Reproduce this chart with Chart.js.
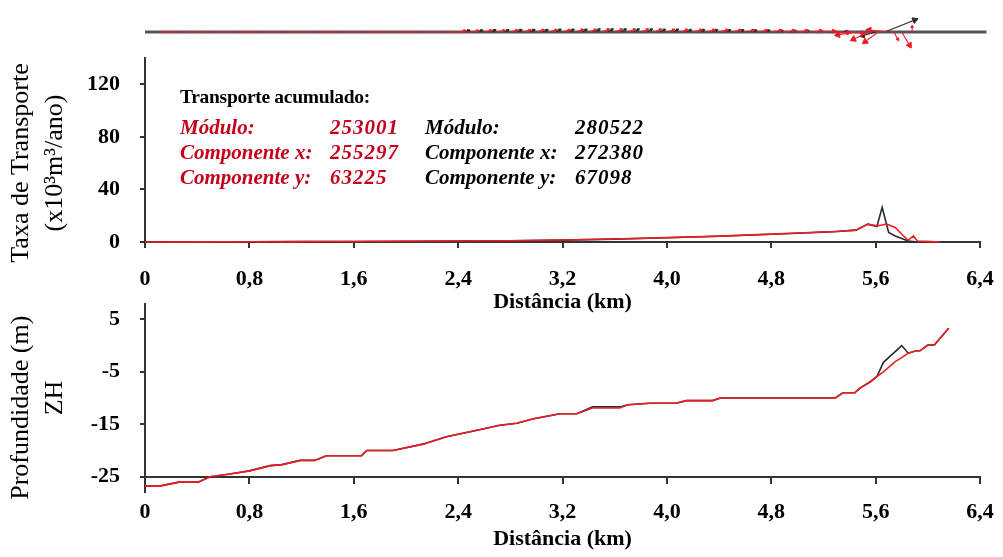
<!DOCTYPE html>
<html>
<head>
<meta charset="utf-8">
<script src="https://cdn.jsdelivr.net/npm/chart.js@4.4.1/dist/chart.umd.min.js"></script>
<style>
html, body { margin: 0; padding: 0; background: #fff; }
#wrap { position: relative; width: 1003px; height: 557px; overflow: hidden; }
.box { position: absolute; left: 0; width: 1003px; }
.note { position: absolute; font-family: 'Liberation Serif', serif; font-weight: bold; font-style: italic;
        font-size: 21px; line-height: 24px; white-space: nowrap; }
.num { letter-spacing: 1px; }
.red { color: #c4001a; }
</style>
</head>
<body>
<div id="wrap">
  <div class="box" style="top:0;height:60px"><canvas id="vec"></canvas></div>
  <div class="box" style="top:50px;height:268px"><canvas id="taxa"></canvas></div>
  <div class="box" style="top:292px;height:265px"><canvas id="prof"></canvas></div>

  <div class="note" style="left:180px;top:85px;font-style:normal;font-size:19.5px;letter-spacing:-0.3px">Transporte acumulado:</div>
  <div class="note red" style="left:180px;top:115px">Módulo:</div>
  <div class="note red num" style="left:330px;top:115px">253001</div>
  <div class="note red" style="left:180px;top:140px">Componente x:</div>
  <div class="note red num" style="left:330px;top:140px">255297</div>
  <div class="note red" style="left:180px;top:165px">Componente y:</div>
  <div class="note red num" style="left:330px;top:165px">63225</div>
  <div class="note" style="left:425px;top:115px">Módulo:</div>
  <div class="note num" style="left:575px;top:115px">280522</div>
  <div class="note" style="left:425px;top:140px">Componente x:</div>
  <div class="note num" style="left:575px;top:140px">272380</div>
  <div class="note" style="left:425px;top:165px">Componente y:</div>
  <div class="note num" style="left:575px;top:165px">67098</div>
</div>
<script>
// eixo das distancias (km)
const tickKm = [0, 0.8, 1.6, 2.4, 3.2, 4.0, 4.8, 5.6, 6.4];
const taxaTicks = [0, 40, 80, 120];
const profTicks = [-25, -15, -5, 5];

// taxa de transporte (x10^3 m3/ano)
const taxaKmRed = [0, 0.4, 0.8, 1.2, 1.6, 2.0, 2.4, 2.8, 3.2, 3.6, 4.0, 4.4, 4.8, 5.0, 5.2, 5.3, 5.45, 5.54, 5.61, 5.65, 5.68, 5.7, 5.75, 5.8, 5.85, 5.89, 5.92, 5.99, 6.09];
const taxaRed   = [0, 0.1, 0.2, 0.3, 0.4, 0.6, 0.8, 1.0, 1.5, 2.3, 3.3, 4.5, 6.0, 6.8, 7.6, 8.0, 9.0, 13.6, 12.3, 13.0, 13.6, 13.2, 11.0, 5.9, 1.3, 4.6, 0.8, 0.5, 0];
const taxaKmBlack = [0, 0.4, 0.8, 1.2, 1.6, 2.0, 2.4, 2.8, 3.2, 3.6, 4.0, 4.4, 4.8, 5.0, 5.2, 5.3, 5.45, 5.54, 5.61, 5.65, 5.7, 5.75, 5.85, 5.92];
const taxaBlack   = [0, 0.1, 0.2, 0.3, 0.4, 0.5, 0.7, 1.0, 1.4, 2.2, 3.2, 4.4, 5.9, 6.7, 7.5, 8.0, 9.0, 13.6, 11.8, 26.4, 7.2, 4.6, 0.8, 0];

// perfil de profundidade (m, ZH)
const profKmRed = [0, 0.11, 0.27, 0.41, 0.5, 0.65, 0.8, 0.96, 1.05, 1.19, 1.3, 1.39, 1.66, 1.7, 1.9, 2.13, 2.31, 2.5, 2.72, 2.85, 2.97, 3.18, 3.31, 3.43, 3.64, 3.7, 3.87, 4.07, 4.15, 4.35, 4.41, 5.29, 5.35, 5.44, 5.48, 5.56, 5.61, 5.66, 5.75, 5.8, 5.85, 5.91, 5.94, 6.0, 6.05, 6.16];
const profRed   = [-26.8, -26.8, -26.0, -26.0, -25.0, -24.5, -23.9, -22.9, -22.7, -21.9, -21.9, -21.0, -21.0, -20.0, -20.0, -18.8, -17.4, -16.4, -15.2, -14.8, -14.0, -13.0, -13.0, -11.9, -11.9, -11.3, -11.0, -11.0, -10.5, -10.5, -10.0, -10.0, -9.0, -9.0, -8.1, -6.9, -5.9, -5.0, -3.05, -2.3, -1.45, -1.0, -1.0, 0.1, 0.1, 3.3];
const profKmBlack = [0, 0.11, 0.27, 0.41, 0.5, 0.65, 0.8, 0.96, 1.05, 1.19, 1.3, 1.39, 1.66, 1.7, 1.9, 2.13, 2.31, 2.5, 2.72, 2.85, 2.97, 3.18, 3.31, 3.43, 3.64, 3.7, 3.87, 4.07, 4.15, 4.35, 4.41, 5.29, 5.35, 5.44, 5.48, 5.56, 5.61, 5.66, 5.8, 5.85, 5.91, 5.94, 6.0, 6.05, 6.16];
const profBlack   = [-26.8, -26.8, -26.0, -26.0, -25.0, -24.5, -23.9, -22.9, -22.7, -21.9, -21.9, -21.0, -21.0, -20.0, -20.0, -18.8, -17.4, -16.4, -15.2, -14.8, -14.0, -13.0, -13.0, -11.7, -11.7, -11.3, -11.0, -11.0, -10.5, -10.5, -10.0, -10.0, -9.0, -9.0, -8.1, -6.9, -5.9, -3.2, 0.0, -1.45, -1.0, -1.0, 0.1, 0.1, 3.3];

// vectores de transporte: posicao (km) e componentes (u, v)
const vecPosRed = [0.1, 0.3, 0.5, 0.7, 0.9, 1.1, 1.3, 1.5, 1.7, 1.9, 2.1, 2.3,
  2.4, 2.5, 2.6, 2.7, 2.8, 2.9, 3.0, 3.1, 3.2, 3.3, 3.4, 3.5, 3.6, 3.7, 3.8, 3.9, 4.0, 4.1, 4.2, 4.3, 4.4, 4.5, 4.6, 4.7, 4.8, 4.9, 5.0, 5.1, 5.2, 5.3, 5.4,
  5.45, 5.55, 5.62, 5.7, 5.74, 5.8, 5.88];
const vecURed = [0.18, 0.18, 0.18, 0.18, 0.18, 0.18, 0.18, 0.18, 0.18, 0.18, 0.18, 0.18,
  0.05, 0.05, 0.05, 0.05, 0.05, 0.05, 0.05, 0.05, 0.05, 0.05, 0.05, 0.05, 0.05, 0.05, 0.05, 0.05, 0.05, 0.05, 0.06, 0.06, 0.06, 0.06, 0.06, 0.06, 0.07, 0.07, 0.07, 0.08, 0.08, 0.09, 0.1,
  -0.14, -0.12, -0.1, -0.15, 0.03, 0.06, 0.0];
const vecVRed = [0, 0, 0, 0, 0, 0, 0, 0, 0, 0, 0, 0,
  0.05, 0.05, 0.06, 0.06, 0.07, 0.07, 0.08, 0.08, 0.08, 0.09, 0.09, 0.1, 0.1, 0.1, 0.1, 0.1, 0.09, 0.09, 0.08, 0.08, 0.08, 0.07, 0.07, 0.06, 0.06, 0.05, 0.05, 0.04, 0.03, -0.03, -0.05,
  -0.12, -0.3, -0.4, 0.08, -0.3, -0.55, 0.22];
const vecPosBlack = [2.45, 2.55, 2.65, 2.75, 2.85, 2.95, 3.05, 3.15, 3.25, 3.35, 3.45, 3.55, 3.65, 3.75, 3.85, 3.95, 4.05, 4.15, 4.25, 4.35, 4.45, 4.55, 4.65, 4.75, 4.85, 4.95, 5.05, 5.15, 5.25, 5.35, 5.6, 5.67];
const vecUBlack = [0.03, 0.03, 0.03, 0.03, 0.03, 0.03, 0.03, 0.03, 0.03, 0.03, 0.03, 0.03, 0.03, 0.03, 0.03, 0.03, 0.03, 0.03, 0.03, 0.03, 0.03, 0.03, 0.03, 0.03, 0.03, 0.03, 0.03, 0.03, 0.03, 0.03, -0.1, 0.23];
const vecVBlack = [0.06, 0.06, 0.07, 0.07, 0.08, 0.08, 0.08, 0.09, 0.09, 0.09, 0.1, 0.1, 0.1, 0.1, 0.1, 0.09, 0.09, 0.08, 0.08, 0.08, 0.07, 0.07, 0.06, 0.06, 0.05, 0.05, 0.05, 0.04, 0.04, 0.03, -0.15, 0.5];
const baseKm = [0, 6.45];

const RED = '#ee1c25';
const BLACK = '#2a2a2a';
const AXIS = '#333';

Chart.defaults.font.family = "'Liberation Serif', 'Times New Roman', serif";
Chart.defaults.color = '#000';
Chart.defaults.animation = false;
Chart.defaults.events = [];
Chart.defaults.plugins.legend.display = false;
Chart.defaults.plugins.tooltip.enabled = false;

const fmtKm = v => v === 0 ? '0' : v.toFixed(1).replace('.', ',');
const pairs = (xs, ys) => xs.map((x, i) => ({x: x, y: ys[i]}));
const noPad = s => { s.paddingTop = 0; s.paddingBottom = 0; s.paddingLeft = 0; s.paddingRight = 0; };

function xAxis(extra, h, tickPad) {
    return Object.assign({
        type: 'linear', min: 0, max: 6.4,
        afterBuildTicks: s => { s.ticks = tickKm.map(v => ({value: v})); },
        ticks: { callback: fmtKm, font: {size: 22, weight: 'bold'}, padding: tickPad, maxRotation: 0, autoSkip: false },
        grid: { drawOnChartArea: false, drawTicks: true, tickLength: 6, color: AXIS, lineWidth: 2 },
        border: { display: true, color: AXIS, width: 2 },
        title: { display: true, text: 'Distância (km)', font: {size: 22, weight: 'bold'}, padding: {top: 0, bottom: 2} },
        afterFit: s => { s.height = h; noPad(s); }
    }, extra);
}
function yAxis(ticksArr, min, max, titleText) {
    return {
        min: min, max: max,
        afterBuildTicks: s => { s.ticks = ticksArr.map(v => ({value: v})); },
        ticks: { font: {size: 22, weight: 'bold'}, padding: 20 },
        grid: { drawOnChartArea: false, drawTicks: true, tickLength: 5, color: AXIS, lineWidth: 2 },
        border: { display: true, color: AXIS, width: 2 },
        title: { display: true, text: titleText, font: {size: 26, lineHeight: 1.3}, padding: {top: 4, bottom: 0} },
        afterFit: s => { s.width = 145; noPad(s); }
    };
}

// --- painel dos vectores ---
function vecPoints(pos, u, v) {
    const pts = [];
    pos.forEach((p, i) => {
        pts.push({x: p, y: 0}, {x: p + u[i], y: v[i]}, {x: p, y: null});
    });
    return pts;
}
function headDelta(ctx) {
    const sx = ctx.chart.scales.x, sy = ctx.chart.scales.y;
    const a = ctx.dataset.data[ctx.dataIndex - 1], b = ctx.dataset.data[ctx.dataIndex];
    return [sx.getPixelForValue(b.x) - sx.getPixelForValue(a.x), sy.getPixelForValue(b.y) - sy.getPixelForValue(a.y)];
}
function headRadius(ctx) {
    if (ctx.dataIndex % 3 !== 1) return 0;
    if (ctx.dataset.data[ctx.dataIndex].y === 0) return 0;
    const d = headDelta(ctx);
    return Math.min(3.5, Math.max(1.6, Math.hypot(d[0], d[1]) * 0.22));
}
function headRotation(ctx) {
    if (ctx.dataIndex % 3 !== 1) return 0;
    const d = headDelta(ctx);
    return Math.atan2(d[0], -d[1]) * 180 / Math.PI;
}
function vecDataset(pos, u, v, color, w) {
    return {
        data: vecPoints(pos, u, v), borderColor: color, backgroundColor: color, borderWidth: w,
        spanGaps: false, pointStyle: 'triangle', pointRadius: headRadius, pointRotation: headRotation,
        pointBorderWidth: 1, pointBorderColor: color, clip: false
    };
}

new Chart(document.getElementById('vec'), {
    type: 'line',
    data: { datasets: [
        vecDataset(vecPosRed, vecURed, vecVRed, RED, 1.1),
        vecDataset(vecPosBlack, vecUBlack, vecVBlack, BLACK, 1.2),
        { data: baseKm.map(x => ({x: x, y: 0})), borderColor: '#555', borderWidth: 3, pointRadius: 0, clip: false }
    ]},
    options: {
        responsive: true, maintainAspectRatio: false,
        layout: { padding: {left: 145, right: 23, top: 8, bottom: 4} },
        scales: {
            x: { type: 'linear', min: 0, max: 6.4, display: false },
            y: { min: -1, max: 1, display: false }
        }
    }
});

// --- painel da taxa de transporte ---
new Chart(document.getElementById('taxa'), {
    type: 'line',
    data: { datasets: [
        { data: pairs(taxaKmRed, taxaRed), borderColor: RED, borderWidth: 1.6, pointRadius: 0, tension: 0, clip: 4 },
        { data: pairs(taxaKmBlack, taxaBlack), borderColor: BLACK, borderWidth: 1.6, pointRadius: 0, tension: 0, clip: 4 }
    ]},
    options: {
        responsive: true, maintainAspectRatio: false,
        layout: { padding: {left: 0, right: 23, top: 8, bottom: 0} },
        scales: {
            x: xAxis({}, 76, 18),
            y: yAxis(taxaTicks, 0, 140, ['Taxa de Transporte\u2002\u2002', '(x10³m³/ano)\u2002\u2002'])
        }
    }
});

// --- painel do perfil ---
new Chart(document.getElementById('prof'), {
    type: 'line',
    data: { datasets: [
        { data: pairs(profKmRed, profRed), borderColor: RED, borderWidth: 1.6, pointRadius: 0, tension: 0, clip: 4 },
        { data: pairs(profKmBlack, profBlack), borderColor: BLACK, borderWidth: 1.6, pointRadius: 0, tension: 0, clip: 4 }
    ]},
    options: {
        responsive: true, maintainAspectRatio: false,
        layout: { padding: {left: 0, right: 23, top: 11.6, bottom: 64.6} },
        scales: {
            x: xAxis({ position: {y: -25} }, 78, 16),
            y: yAxis(profTicks, -28, 8, ['Profundidade (m)\u2002 ', 'ZH'])
        }
    }
});
</script>
</body>
</html>
